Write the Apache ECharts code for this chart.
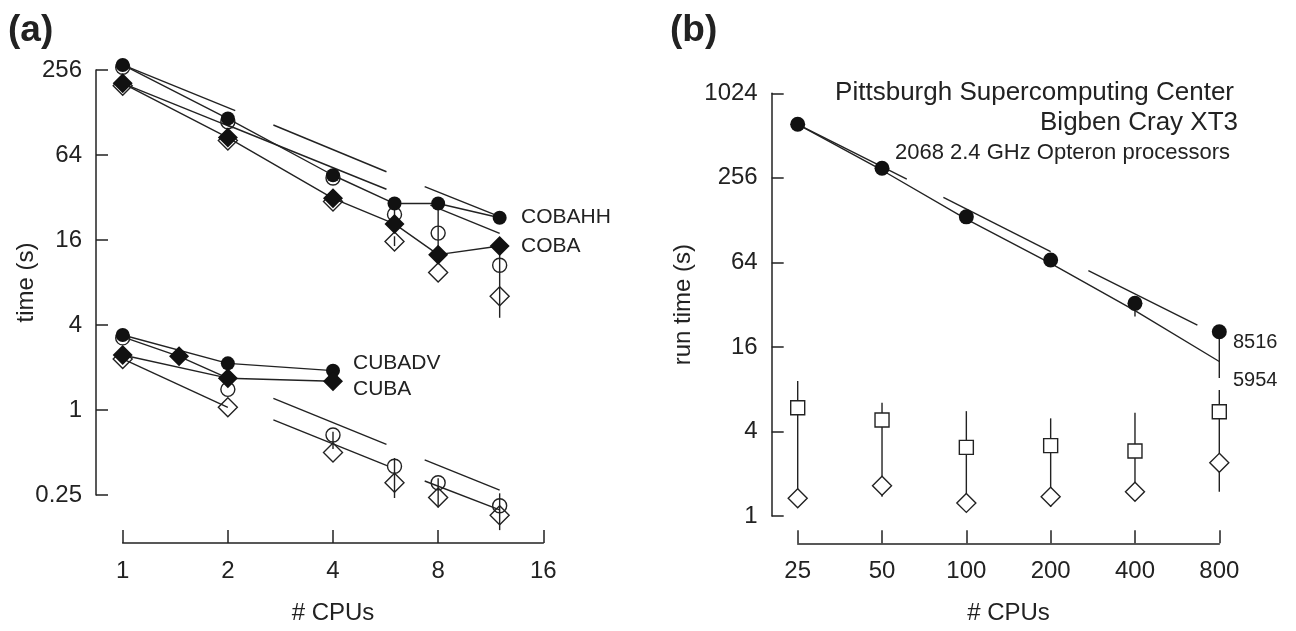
<!DOCTYPE html>
<html><head><meta charset="utf-8">
<script src="https://cdn.jsdelivr.net/npm/echarts@6/dist/echarts.min.js"></script>
<style>html,body{margin:0;padding:0;background:#fff}#c{width:1296px;height:631px}</style>
</head><body><div id="c"></div>
<script>
// ---------- Panel (a) data ----------
const cpusA = [1, 2, 4, 6, 8, 12];
const cobahhFilled = [278, 116, 46, 29, 29, 23];
const cobahhOpen = [268, 110, 44, 24.3, 17.9, 10.6];
const cobaFilled = [206, 85, 31.6, 20.8, 12.6, 14.5];
const cobaOpen = [198, 81, 30, 15.6, 9.4, 6.4];
const cpusLow = [1, 2, 4];
const cubadvFilled = [3.4, 2.14, 1.90];
const cubaFilled = [2.45, 1.68, 1.60];
const cubaExtraCpus = [1, 1.45, 2];
const cubaExtra = [3.3, 2.4, 1.68];
const cubadvOpen = [3.24, 1.40, 0.665, 0.40, 0.305, 0.21];
const cubaOpen = [2.3, 1.045, 0.50, 0.305, 0.24, 0.18];
// error bars: [cpus, low, high]
const errA = [[4, 0.53, 0.70], [6, 0.238, 0.457], [8, 0.204, 0.328], [12, 0.141, 0.257],
              [6, 22.5, 26.5], [6, 14.5, 17], [8, 12.6, 29], [12, 4.5, 14.5]];
// ideal-scaling segments: [cpus0, time0, cpus1, time1]
const idealA = [[1, 278, 2.1, 132], [1, 206, 2.07, 99.5], [2.7, 104.4, 5.69, 48.7], [2, 104, 5.69, 36.6],
                [7.32, 38.2, 12, 23.4], [7.6, 28.3, 12, 17.8], [2.7, 1.21, 5.69, 0.571],
                [2.7, 0.85, 5.71, 0.403], [7.32, 0.443, 12, 0.271], [7.32, 0.314, 12, 0.196]];
const xTicksA = [1, 2, 4, 8, 16];
const yTicksA = [0.25, 1, 4, 16, 64, 256];

// ---------- Panel (b) data ----------
const cpusB = [25, 50, 100, 200, 400, 800];
const run8516 = [616, 299.5, 135, 66.5, 32.7, 20.5];
const run5954 = [616, 290, 130, 63, 29, 12.6];
const squareB = [5.9, 4.83, 3.08, 3.17, 2.90, 5.53];
const diamondB = [1.34, 1.64, 1.24, 1.37, 1.49, 2.39];
const errB = [[25, 1.3, 9.15], [50, 1.37, 6.4], [100, 1.35, 5.58], [200, 1.16, 4.96],
              [400, 1.37, 5.43], [800, 1.49, 7.9], [800, 9.6, 18.5], [400, 26.3, 31]];
const idealB = [[25, 616, 61.3, 251], [82.8, 186, 200, 76.3], [272.7, 55.8, 668, 22.9]];
const xTicksB = [25, 50, 100, 200, 400, 800];
const yTicksB = [1, 4, 16, 64, 256, 1024];

// ---------- helpers ----------
const INK = '#222';
const FONT = 'Liberation Sans, Arial, Helvetica, sans-serif';
const zip = (xs, ys) => xs.map((x, i) => [x, ys[i]]);
const fmt = v => String(+(+v).toPrecision(6));

function axisCommon(ticks, extra) {
  return Object.assign({
    type: 'log', logBase: 2,
    axisLine: { show: true, onZero: false, lineStyle: { color: INK, width: 1.5 } },
    axisTick: { show: true, inside: true, length: 12, customValues: ticks, lineStyle: { color: INK, width: 1.5 } },
    axisLabel: { customValues: ticks, fontSize: 24, color: INK, fontFamily: FONT, formatter: fmt },
    splitLine: { show: false },
    nameTextStyle: { fontSize: 24, color: INK, fontFamily: FONT },
    nameLocation: 'middle',
    nameMoveOverlap: false
  }, extra);
}

function segSeries(data, xi, z) {
  return {
    type: 'custom', xAxisIndex: xi, yAxisIndex: xi, data: data, z: z, silent: true, clip: false,
    encode: { x: [0, 2], y: [1, 3] },
    renderItem: (p, api) => {
      const a = api.coord([api.value(0), api.value(1)]);
      const b = api.coord([api.value(2), api.value(3)]);
      return { type: 'line', shape: { x1: a[0], y1: a[1], x2: b[0], y2: b[1] },
               style: { stroke: INK, lineWidth: 1.4 } };
    }
  };
}
function errSeries(data, xi, z) {
  return {
    type: 'custom', xAxisIndex: xi, yAxisIndex: xi, data: data, z: z, silent: true, clip: false,
    encode: { x: 0, y: [1, 2] },
    renderItem: (p, api) => {
      const a = api.coord([api.value(0), api.value(1)]);
      const b = api.coord([api.value(0), api.value(2)]);
      return { type: 'line', shape: { x1: a[0], y1: a[1], x2: b[0], y2: b[1] },
               style: { stroke: INK, lineWidth: 1.4 } };
    }
  };
}
function lineSeries(data, xi, z) {
  return { type: 'line', xAxisIndex: xi, yAxisIndex: xi, data: data, symbol: 'none', z: z, clip: false,
           lineStyle: { color: INK, width: 1.4 }, silent: true, animation: false };
}
function filled(data, xi, symbol, size, z) {
  return { type: 'scatter', xAxisIndex: xi, yAxisIndex: xi, data: data, symbol: symbol, symbolSize: size, z: z,
           clip: false, itemStyle: { color: '#111', opacity: 1 }, silent: true };
}
function open(data, xi, symbol, size, z, fill) {
  return { type: 'scatter', xAxisIndex: xi, yAxisIndex: xi, data: data, symbol: symbol, symbolSize: size, z: z,
           clip: false, itemStyle: { color: fill, borderColor: INK, borderWidth: 1.4, opacity: 1 }, silent: true };
}

function txt(x, y, text, size, align, weight) {
  return { type: 'text', x: x, y: y, silent: true,
           style: { text: text, fill: INK, font: (weight || 'normal') + ' ' + size + 'px ' + FONT,
                    align: align || 'left', verticalAlign: 'middle',
                    textAlign: align || 'left', textVerticalAlign: 'middle' } };
}

const chart = echarts.init(document.getElementById('c'), null, { renderer: 'canvas' });
chart.setOption({
  animation: false,
  backgroundColor: '#fff',
  grid: [
    { left: 122.7, top: 70, width: 420.6, height: 425, outerBoundsMode: 'none', containLabel: false },
    { left: 797.7, top: 93.3, width: 421.6, height: 422.7, outerBoundsMode: 'none', containLabel: false }
  ],
  xAxis: [
    axisCommon(xTicksA, { gridIndex: 0, min: 1, max: 16, offset: 48, name: '# CPUs', nameGap: 58,
                          axisLabel: { customValues: xTicksA, fontSize: 24, color: INK, fontFamily: FONT, margin: 16, formatter: fmt },
                          axisTick: { show: true, inside: true, length: 13, customValues: xTicksA, lineStyle: { color: INK, width: 1.5 } } }),
    axisCommon(xTicksB, { gridIndex: 1, min: 25, max: 800, offset: 27.3, name: '# CPUs', nameGap: 58,
                          axisLabel: { customValues: xTicksB, fontSize: 24, color: INK, fontFamily: FONT, margin: 16, formatter: fmt },
                          axisTick: { show: true, inside: true, length: 13, customValues: xTicksB, lineStyle: { color: INK, width: 1.5 } } })
  ],
  yAxis: [
    axisCommon(yTicksA, { gridIndex: 0, min: 0.25, max: 256, offset: 26.7, name: 'time (s)', nameGap: 58,
                          axisLabel: { customValues: yTicksA, fontSize: 24, color: INK, fontFamily: FONT, margin: 14, formatter: fmt } }),
    axisCommon(yTicksB, { gridIndex: 1, min: 1, max: 1024, offset: 26, name: 'run time (s)', nameGap: 76,
                          axisLabel: { customValues: yTicksB, fontSize: 24, color: INK, fontFamily: FONT, margin: 14, formatter: fmt } })
  ],
  series: [
    // ----- panel (a) -----
    open(zip(cpusA, cobahhOpen), 0, 'circle', 14, 3, 'transparent'),
    open(zip(cpusA, cobaOpen), 0, 'diamond', 19, 3, 'transparent'),
    open(zip(cpusA, cubadvOpen), 0, 'circle', 14, 3, 'transparent'),
    open(zip(cpusA, cubaOpen), 0, 'diamond', 19, 3, 'transparent'),
    segSeries(idealA, 0, 4),
    errSeries(errA, 0, 4),
    lineSeries(zip(cpusA, cobahhFilled), 0, 4),
    lineSeries(zip(cpusA, cobaFilled), 0, 4),
    lineSeries(zip(cpusLow, cubadvFilled), 0, 4),
    lineSeries(zip(cpusLow, cubaFilled), 0, 4),
    lineSeries(zip(cubaExtraCpus, cubaExtra), 0, 4),
    lineSeries(zip(cpusA, cubaOpen).slice(0, 2), 0, 4),
    filled(zip(cpusA, cobahhFilled), 0, 'circle', 14, 6),
    filled(zip(cpusA, cobaFilled), 0, 'diamond', 20, 6),
    filled(zip(cpusLow, cubadvFilled), 0, 'circle', 14, 6),
    filled(zip(cpusLow, cubaFilled), 0, 'diamond', 20, 6),
    filled(zip(cubaExtraCpus, cubaExtra).slice(1, 2), 0, 'diamond', 20, 6),
    // ----- panel (b) -----
    segSeries(idealB, 1, 2),
    errSeries(errB, 1, 2),
    lineSeries(zip(cpusB, run5954), 1, 3),
    open(zip(cpusB, squareB), 1, 'rect', 14, 5, '#fff'),
    open(zip(cpusB, diamondB), 1, 'diamond', 19, 5, '#fff'),
    filled(zip(cpusB, run8516), 1, 'circle', 15, 6)
  ],
  graphic: [
    txt(8, 31, '(a)', 37, 'left', 'bold'),
    txt(670, 31, '(b)', 37, 'left', 'bold'),
    txt(521, 217, 'COBAHH', 21),
    txt(521, 246, 'COBA', 21),
    txt(353, 363, 'CUBADV', 21),
    txt(353, 389, 'CUBA', 21),
    txt(1234, 93, 'Pittsburgh Supercomputing Center', 26, 'right'),
    txt(1238, 123, 'Bigben Cray XT3', 26, 'right'),
    txt(1230, 153, '2068 2.4 GHz Opteron processors', 22, 'right'),
    txt(1233, 342, '8516', 20),
    txt(1233, 380, '5954', 20)
  ]
});
</script></body></html>
